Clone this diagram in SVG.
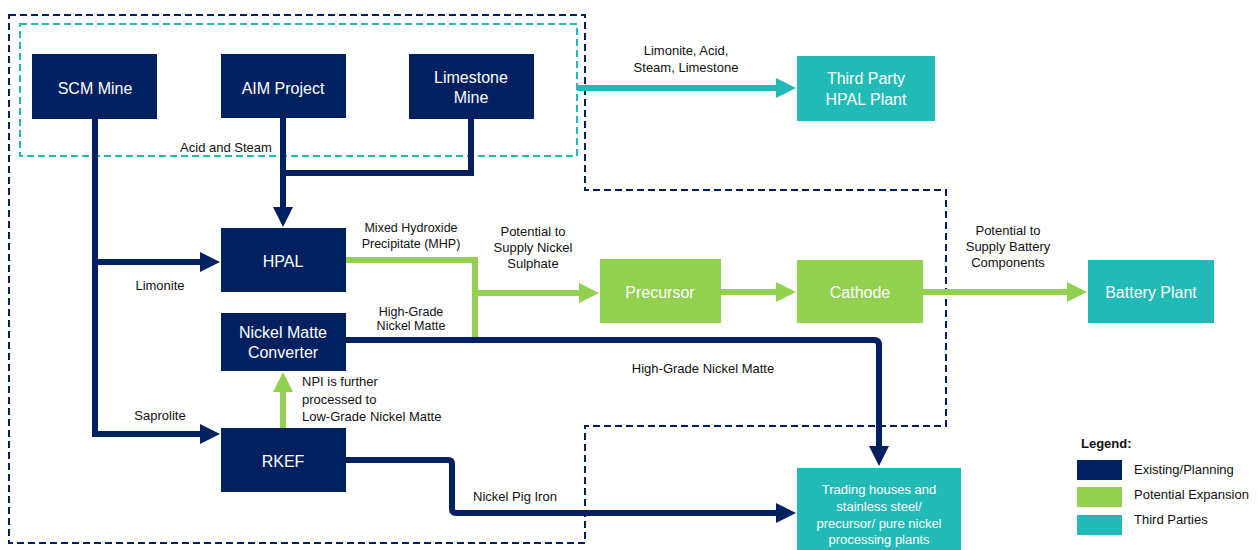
<svg xmlns="http://www.w3.org/2000/svg" width="1258" height="550" viewBox="0 0 1258 550">
<style>
  .navy{fill:#002060}
  .green{fill:#92D050}
  .teal{fill:#22BAB6}
  .bt{font-family:"Liberation Sans",Arial,sans-serif;font-size:16px;fill:#ffffff;text-anchor:middle}
  .bt13{font-family:"Liberation Sans",Arial,sans-serif;font-size:13px;fill:#ffffff;text-anchor:middle}
  .lbl{font-family:"Liberation Sans",Arial,sans-serif;font-size:13px;fill:#111111;text-anchor:middle}
  .lbs{font-family:"Liberation Sans",Arial,sans-serif;font-size:13px;fill:#111111;text-anchor:start}
  .sm{font-family:"Liberation Sans",Arial,sans-serif;font-size:12.5px;fill:#111111;text-anchor:middle}
  .lg{font-family:"Liberation Sans",Arial,sans-serif;font-size:13px;fill:#111111}
  .cn{fill:none;stroke:#002060;stroke-width:6}
  .cg{fill:none;stroke:#92D050;stroke-width:6}
  .ct{fill:none;stroke:#22BAB6;stroke-width:6}
  .dn{fill:none;stroke:#002060;stroke-width:2;stroke-dasharray:7 4}
  .dt{fill:none;stroke:#22BAB6;stroke-width:2;stroke-dasharray:7 4}
</style>
<defs>
  <marker id="an" viewBox="0 -10 20 20" refX="1" refY="0" markerWidth="20" markerHeight="20" markerUnits="userSpaceOnUse" orient="auto"><path d="M0,-10 L20,0 L0,10 Z" fill="#002060"/></marker>
  <marker id="ag" viewBox="0 -10 20 20" refX="1" refY="0" markerWidth="20" markerHeight="20" markerUnits="userSpaceOnUse" orient="auto"><path d="M0,-10 L20,0 L0,10 Z" fill="#92D050"/></marker>
  <marker id="at" viewBox="0 -10 20 20" refX="1" refY="0" markerWidth="20" markerHeight="20" markerUnits="userSpaceOnUse" orient="auto"><path d="M0,-10 L20,0 L0,10 Z" fill="#22BAB6"/></marker>
</defs>
<rect width="1258" height="550" fill="#ffffff"/>

<g id="boundaries">
  <path class="dn" d="M9,15 H585 V190 H946 V426 H585 V543 H9 Z"/>
  <rect class="dt" x="20" y="24" width="557" height="132"/>
</g>

<g id="connectors">
  <path class="cn" d="M95,119 V434 H201" marker-end="url(#an)"/>
  <path class="cn" d="M95,262 H201" marker-end="url(#an)"/>
  <path class="cn" d="M283,118 V208" marker-end="url(#an)"/>
  <path class="cn" d="M471,119 V173 H283"/>
  <path class="cg" d="M346,260 H475 V337"/>
  <path class="cg" d="M475,293 H580" marker-end="url(#ag)"/>
  <path class="cg" d="M721,292 H777" marker-end="url(#ag)"/>
  <path class="cg" d="M923,292 H1068" marker-end="url(#ag)"/>
  <path class="ct" d="M577,88 H777" marker-end="url(#at)"/>
  <path class="cn" d="M346,340 H874 Q879,340 879,345 V447" marker-end="url(#an)"/>
  <path class="cg" d="M283,428 V391" marker-end="url(#ag)"/>
  <path class="cn" d="M346,460 H448 Q452,460 452,464 V509 Q452,513 456,513 H777" marker-end="url(#an)"/>
  <text class="lbl" x="226" y="152">Acid and Steam</text>
  <text class="lbl" x="160" y="290">Limonite</text>
  <text class="lbl" x="160" y="420">Saprolite</text>
  <text class="lbl" x="686" y="55">Limonite, Acid,</text>
  <text class="lbl" x="686" y="72">Steam, Limestone</text>
  <text class="sm" x="411" y="232">Mixed Hydroxide</text>
  <text class="sm" x="411" y="248">Precipitate (MHP)</text>
  <text class="lbl" x="533" y="236">Potential to</text>
  <text class="lbl" x="533" y="252">Supply Nickel</text>
  <text class="lbl" x="533" y="268">Sulphate</text>
  <text class="sm" x="411" y="316">High-Grade</text>
  <text class="sm" x="411" y="330">Nickel Matte</text>
  <text class="lbl" x="1008" y="235">Potential to</text>
  <text class="lbl" x="1008" y="251">Supply Battery</text>
  <text class="lbl" x="1008" y="267">Components</text>
  <text class="lbl" x="703" y="373">High-Grade Nickel Matte</text>
  <text class="lbs" x="302" y="386">NPI is further</text>
  <text class="lbs" x="302" y="404">processed to</text>
  <text class="lbs" x="302" y="421">Low-Grade Nickel Matte</text>
  <text class="lbl" x="515" y="501">Nickel Pig Iron</text>
</g>

<g id="scm-mine"><rect class="navy" x="32" y="54" width="125" height="65"/><text class="bt" x="95" y="94">SCM Mine</text></g>
<g id="aim-project"><rect class="navy" x="221" y="54" width="125" height="64"/><text class="bt" x="283" y="94">AIM Project</text></g>
<g id="limestone-mine"><rect class="navy" x="409" y="54" width="125" height="65"/><text class="bt" x="471" y="83">Limestone</text><text class="bt" x="471" y="103">Mine</text></g>
<g id="third-party-hpal"><rect class="teal" x="797" y="56" width="138" height="65"/><text class="bt" x="866" y="84">Third Party</text><text class="bt" x="866" y="105">HPAL Plant</text></g>
<g id="hpal"><rect class="navy" x="221" y="228" width="125" height="64"/><text class="bt" x="283" y="267">HPAL</text></g>
<g id="nickel-matte-converter"><rect class="navy" x="221" y="313" width="125" height="58"/><text class="bt" x="283" y="338">Nickel Matte</text><text class="bt" x="283" y="358">Converter</text></g>
<g id="rkef"><rect class="navy" x="221" y="428" width="125" height="64"/><text class="bt" x="283" y="467">RKEF</text></g>
<g id="precursor"><rect class="green" x="600" y="259" width="121" height="64"/><text class="bt" x="660" y="298">Precursor</text></g>
<g id="cathode"><rect class="green" x="797" y="260" width="126" height="63"/><text class="bt" x="860" y="298">Cathode</text></g>
<g id="battery-plant"><rect class="teal" x="1088" y="260" width="126" height="63"/><text class="bt" x="1151" y="298">Battery Plant</text></g>
<g id="trading"><rect class="teal" x="797" y="468" width="164" height="82"/>
  <text class="bt13" x="879" y="494">Trading houses and</text>
  <text class="bt13" x="879" y="511">stainless steel/</text>
  <text class="bt13" x="879" y="528">precursor/ pure nickel</text>
  <text class="bt13" x="879" y="544">processing plants</text>
</g>

<g id="legend">
  <text class="lg" x="1081" y="448" font-weight="bold">Legend:</text>
  <rect class="navy" x="1077" y="460" width="45" height="20"/>
  <rect class="green" x="1077" y="487" width="45" height="20"/>
  <rect class="teal" x="1077" y="515" width="45" height="20"/>
  <text class="lg" x="1134" y="474">Existing/Planning</text>
  <text class="lg" x="1134" y="499">Potential Expansion</text>
  <text class="lg" x="1134" y="524">Third Parties</text>
</g>
</svg>
